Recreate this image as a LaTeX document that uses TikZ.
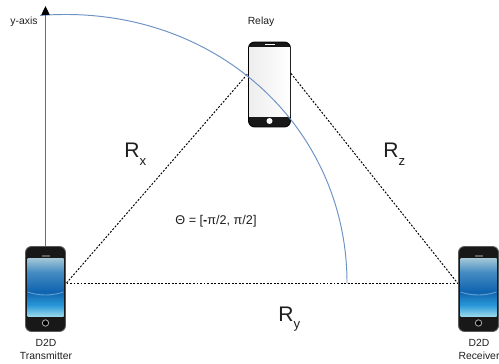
\documentclass[tikz,border=0pt]{standalone}
\usepackage{fontspec}
\setmainfont{Liberation Sans}
\usepackage{xcolor}
\usetikzlibrary{arrows.meta,positioning}
\definecolor{arcblue}{RGB}{108,146,196}
\definecolor{axisgray}{RGB}{110,110,110}
\definecolor{casedark}{RGB}{24,24,24}
\definecolor{darktext}{RGB}{30,30,30}
\definecolor{screenlow}{RGB}{150,215,235}
\definecolor{screenmidlow}{RGB}{40,150,215}
\definecolor{screenmid}{RGB}{15,100,175}
\definecolor{screenmidtop}{RGB}{70,140,195}
\definecolor{screentop}{RGB}{165,200,215}
\pgfdeclareverticalshading{bluescreen}{100bp}{
  color(0bp)=(screenlow);
  color(25bp)=(screenlow);
  color(34.5bp)=(screenmidlow);
  color(46bp)=(screenmid);
  color(63bp)=(screenmidtop);
  color(75bp)=(screentop);
  color(100bp)=(screentop)}
\newcommand{\rangename}[1]{R\raisebox{-4pt}{\fontsize{7.5pt}{8pt}\selectfont #1}}
\tikzset{
  phonecase/.style={draw=#1, fill=casedark, rounded corners=3.4pt, line width=0.5pt, inner sep=0pt, minimum width=0.8cm, minimum height=1.7cm},
  phonetext/.style={font=\fontsize{5.9pt}{7.4pt}\selectfont, text=darktext, align=center, inner sep=0pt},
  rangetext/.style={font=\fontsize{12pt}{14pt}\selectfont, text=darktext, inner sep=0pt, anchor=base west},
  link/.style={line width=0.55pt, dash pattern=on 1.1pt off 0.9pt, black},
  pics/bluephone/.style={code={
    \node[phonecase=gray!70!black] (-case) at (0,0) {};
    \shade[shading=bluescreen] (-18,-31) rectangle (18,27);
    \draw[white, opacity=0.35, line width=0.5pt] (-18,3) .. controls (-6,7) and (6,7) .. (18,3);
    \fill[gray!75!black] (-4,-33.6) rectangle (4,-32.4);
    \draw[gray!70, line width=0.5pt, fill=black] (0,34) circle (3.2);
    \coordinate (-out) at (21,-6);
    \coordinate (-in) at (-21,-6);
  }},
  pics/whitephone/.style={code={
    \node[phonecase=black, minimum width=0.84cm, rounded corners=3.5pt] (-case) at (0,0) {};
    \shade[left color=gray!14, right color=white] (-20.5,-36.5) rectangle (20.5,32);
    \fill[white] (-5,-40.4) rectangle (5,-39);
    \fill[white] (0,36.5) circle (3);
    \coordinate (-west) at (-21.5,-11);
    \coordinate (-east) at (21.5,-11);
  }},
}
\begin{document}
\begin{tikzpicture}[x=0.02cm, y=-0.02cm, >=Stealth]
\useasboundingbox (0,0) rectangle (499,364);

% === Phones ===
\pic (tx) at (45.5,289) {bluephone};
\pic (rx) at (478.5,289) {bluephone};
\pic (relay) at (269.5,84.5) {whitephone};

% === Phone labels ===
\node[phonetext] (txname) at (46,349.5) {D2D\\Transmitter};
\node[phonetext] (rxname) at (479,349.5) {D2D\\Receiver};
\node[phonetext] (relayname) at (261,22) {Relay};
\node[phonetext] (axisname) at (24,22) {y-axis};

% === Dotted triangle ===
\draw[link] (tx-out) -- (relay-west);
\draw[link] (relay-east) -- (rx-in);
\draw[link] (tx-out) -- (rx-in);

% === Axis and arc ===
\coordinate (arcstart) at (40,15.5);
\coordinate (arcend) at (347,283);
\coordinate (axistop) at (45.5,6);
\draw[arcblue, line width=0.55pt] (arcstart) .. controls (212,2) and (347,125) .. (arcend);
\draw[-{Triangle[black,length=5pt,width=4.6pt]}, axisgray, line width=0.75pt] (tx-case.north) -- (axistop);

% === Ranges ===
\node[rangetext] (rangex) at (124,158) {\rangename{x}};
\node[rangetext] (rangez) at (383,158) {\rangename{z}};
\node[rangetext] (rangey) at (278,321) {\rangename{y}};
\node[phonetext, font=\fontsize{7.2pt}{8pt}\selectfont] (theta) at (216,221.5) {Θ = [\textbf{-}π/2, π/2]};

\end{tikzpicture}
\end{document}
